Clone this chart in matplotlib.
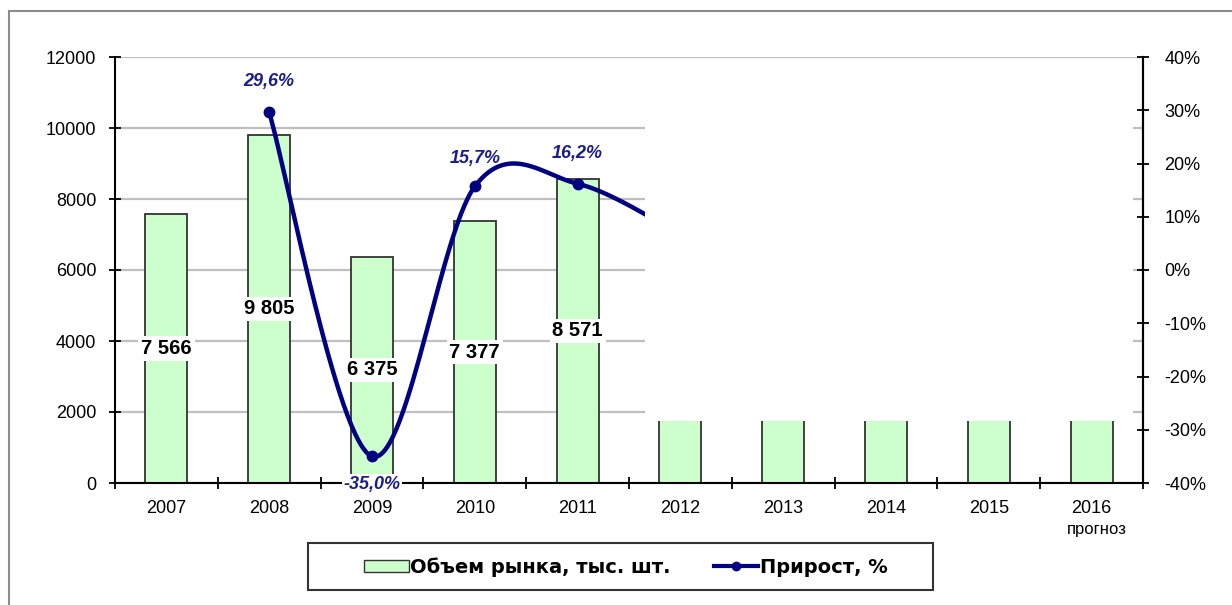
import matplotlib
matplotlib.use('Agg')
import matplotlib.pyplot as plt
from matplotlib.patches import Rectangle, Patch
from matplotlib.lines import Line2D
import numpy as np

plt.rcParams['font.family'] = ['Liberation Sans', 'DejaVu Sans']

# data
years = ['2007', '2008', '2009', '2010', '2011', '2012', '2013', '2014', '2015', '2016']
volume = [7566, 9805, 6375, 7377, 8571]
volume_labels = ['7 566', '9 805', '6 375', '7 377', '8 571']
forecast_volume = [1800, 1800, 1800, 1800, 1800]  # only the lower part is visible
growth_years = [1, 2, 3, 4, 5]
growth = [29.6, -35.0, 15.7, 16.2, 6.7]  # last value hidden under the blank box, estimated
growth_labels = ['29,6%', '-35,0%', '15,7%', '16,2%']

bar_green = '#ccffcc'
navy = '#000080'
label_blue = '#1c1c8c'
grid_gray = '#bfbfbf'


def excel_smooth(x, y, n=60):
    # catmull-rom style bezier, like excel "smoothed line"
    pts = np.column_stack([x, y]).astype(float)
    P = np.vstack([pts[0], pts, pts[-1]])
    t = np.linspace(0, 1, n)[:, None]
    out = []
    for i in range(1, len(P) - 2):
        p0, p1, p2, p3 = P[i - 1], P[i], P[i + 1], P[i + 2]
        c1 = p1 + (p2 - p0) / 6
        c2 = p2 - (p3 - p1) / 6
        seg = (1 - t) ** 3 * p1 + 3 * (1 - t) ** 2 * t * c1 + 3 * (1 - t) * t ** 2 * c2 + t ** 3 * p2
        out.append(seg)
    return np.vstack(out)


fig = plt.figure(figsize=(12.32, 6.05), dpi=100)
W, H = 1232, 605
fig.patches.append(Rectangle((9 / W, -0.1), 1.2, 1 - 11 / H + 0.1,
                             transform=fig.transFigure, fill=False,
                             edgecolor='#8c8c8c', linewidth=1.5))
# legend frame
fig.patches.append(Rectangle((308 / W, 1 - 590 / H), 625 / W, 47 / H,
                             transform=fig.transFigure, facecolor='white',
                             edgecolor='#333333', linewidth=1.5, zorder=9))

ax = fig.add_axes([115 / W, 1 - 483 / H, 1028 / W, 426 / H])
ax2 = ax.twinx()

x = np.arange(len(years))
all_volume = volume + forecast_volume
ax.bar(x, all_volume, width=0.41, color=bar_green, edgecolor='#333333', linewidth=1.3, zorder=2)

ax.set_xlim(-0.5, len(years) - 0.5)
ax.set_ylim(0, 12000)
ax.set_yticks(np.arange(0, 12001, 2000))
ax.yaxis.grid(True, color=grid_gray, linewidth=1.6)
ax.set_axisbelow(True)
ax.set_xticks(x)
ax.set_xticklabels(years, fontsize=13)
ax.set_xticks(np.arange(-0.5, len(years), 1), minor=True)
ax.tick_params(axis='x', which='major', length=0, pad=12)
ax.tick_params(axis='x', which='minor', length=9, width=1.3, direction='inout')
ax.tick_params(axis='y', labelsize=13, length=9, width=1.3, direction='inout', pad=9)
ax.text(9.05, -0.11, 'прогноз', transform=ax.get_xaxis_transform(), ha='center', va='center', fontsize=12)

for s in ['top']:
    ax.spines[s].set_visible(False)
    ax2.spines[s].set_visible(False)
for s in ['left', 'right', 'bottom']:
    ax.spines[s].set_linewidth(1.5)
    ax2.spines[s].set_linewidth(1.5)
ax2.spines['bottom'].set_visible(False)
ax2.spines['left'].set_visible(False)

ax2.set_ylim(-40, 40)
ax2.set_yticks(np.arange(-40, 41, 10))
ax2.set_yticklabels(['%d%%' % v for v in np.arange(-40, 41, 10)])
ax2.tick_params(axis='y', labelsize=13, length=9, width=1.3, direction='inout', pad=11)

curve = excel_smooth(growth_years, growth)
ax2.plot(curve[:, 0], curve[:, 1], color=navy, linewidth=3.2, zorder=3, solid_capstyle='butt')
ax2.plot(growth_years[:4], growth[:4], 'o', color=navy, markersize=7.5, zorder=4)

# blank box covering the forecast part of the picture
ax2.add_patch(Rectangle((4.66, 1745), 4.74, 10185, transform=ax.transData,
                        facecolor='white', edgecolor='none', zorder=5))

# value labels on bars
for xi, v, lab in zip(x, volume, volume_labels):
    ax2.text(xi, v / 2, lab, transform=ax.transData, ha='center', va='center',
             fontsize=14.5, fontweight='bold', zorder=6,
             bbox=dict(facecolor='white', edgecolor='none', pad=2))

# growth labels
offsets = [22, -20, 20, 22]
for gx, gv, lab, off in zip(growth_years, growth, growth_labels, offsets):
    ax2.annotate(lab, (gx, gv), xytext=(0, off), textcoords='offset points',
                 ha='center', va='center', fontsize=13, fontweight='bold', style='italic',
                 color=label_blue, zorder=6,
                 bbox=dict(facecolor='white', edgecolor='none', pad=1) if off < 0 else None)

handles = [Patch(facecolor=bar_green, edgecolor='#333333', linewidth=1),
           Line2D([], [], color=navy, linewidth=3, marker='o', markersize=6)]
leg = fig.legend(handles, ['Объем рынка, тыс. шт.', 'Прирост, %'], loc='center',
                 bbox_to_anchor=(626 / W, 1 - 567 / H), ncol=2, frameon=False,
                 prop={'family': 'DejaVu Sans', 'size': 14, 'weight': 'bold'},
                 handlelength=2.3, handleheight=0.6, handletextpad=0.1, columnspacing=2.2)
leg.set_zorder(10)

fig.savefig('out.png', dpi=100)
